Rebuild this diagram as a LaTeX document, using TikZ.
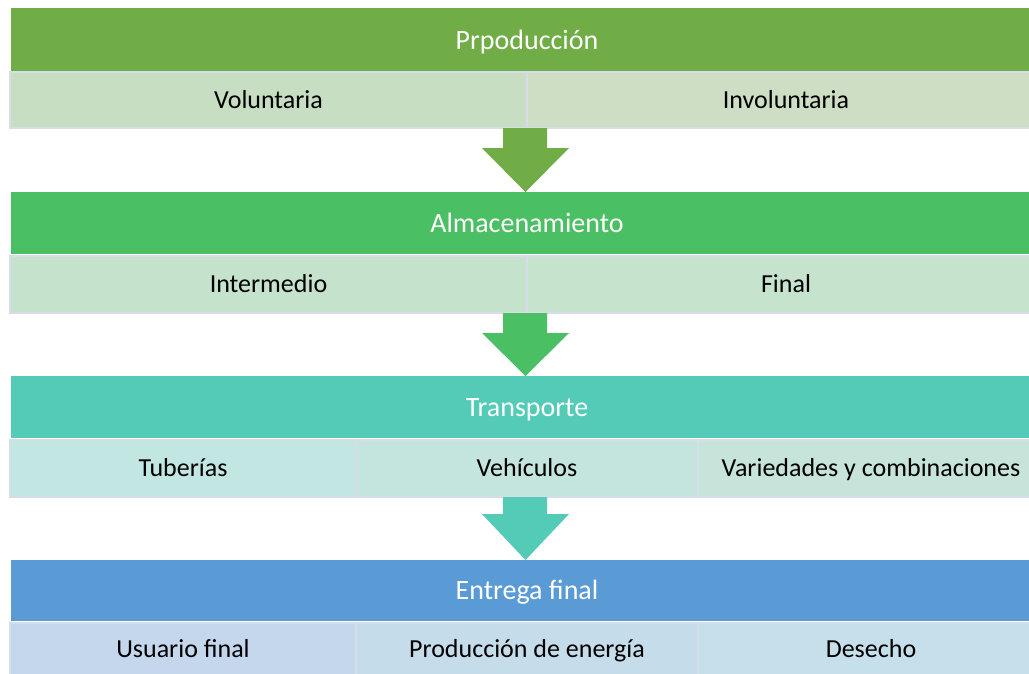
\documentclass[tikz,border=0pt]{standalone}
\usepackage{fontspec}
\setmainfont{Carlito}
\usetikzlibrary{calc}
\definecolor{hA}{HTML}{70AD47}
\definecolor{hB}{HTML}{4BBF63}
\definecolor{hC}{HTML}{53CBB6}
\definecolor{hD}{HTML}{5B9BD5}
\definecolor{sA1}{HTML}{C8DEC2}
\definecolor{sA2}{HTML}{CDDEC4}
\definecolor{sB1}{HTML}{C4E2CC}
\definecolor{sB2}{HTML}{C6E3CD}
\definecolor{sC1}{HTML}{C2E6E2}
\definecolor{sC2}{HTML}{C4E5DD}
\definecolor{sC3}{HTML}{C6E4DA}
\definecolor{sD1}{HTML}{C5D7EC}
\definecolor{sD2}{HTML}{C5DCEB}
\definecolor{sD3}{HTML}{C5E0EB}
\definecolor{bord}{HTML}{D6DDE8}
\tikzset{
  headtext/.style={text=white, inner sep=0pt, text height=18pt, text depth=0pt, font=\fontsize{28}{32}\selectfont},
  cell/.style={draw=bord, line width=2pt, inner sep=0pt, text height=16pt, text depth=0pt, font=\fontsize{26}{30}\selectfont, text=black, anchor=north west}
}
\begin{document}
\begin{tikzpicture}[x=1pt,y=-1pt]
\useasboundingbox (0,0) rectangle (1029,673);
\fill[white] (0,0) rectangle (1029,673);
% Row 1
\fill[hA] (11,8) rectangle (1043,71);
\node[headtext] (h1) at (527,40) {Prpoducción};
\node[cell, fill=sA1, minimum width=517pt, minimum height=56pt] (a1) at (9,71) {Voluntaria};
\node[cell, fill=sA2, minimum width=518pt, minimum height=56pt] (a2) at (526,71) {Involuntaria};
% Row 2
\fill[hB] (11,192) rectangle (1043,254);
\node[headtext] (h2) at (527,223) {Almacenamiento};
\node[cell, fill=sB1, minimum width=517pt, minimum height=57pt] (b1) at (9,255) {Intermedio};
\node[cell, fill=sB2, minimum width=518pt, minimum height=57pt] (b2) at (526,255) {Final};
% Row 3
\fill[hC] (11,376) rectangle (1043,438);
\node[headtext] (h3) at (527,407) {Transporte};
\node[cell, fill=sC1, minimum width=346pt, minimum height=57pt] (c1) at (9,439) {Tuberías};
\node[cell, fill=sC2, minimum width=342pt, minimum height=57pt] (c2) at (355,439) {Vehículos};
\node[cell, fill=sC3, minimum width=346pt, minimum height=57pt] (c3) at (697,439) {Variedades y combinaciones};
% Row 4
\fill[hD] (11,560) rectangle (1043,621);
\node[headtext] (h4) at (527,590) {Entrega final};
\node[cell, fill=sD1, minimum width=346pt, minimum height=53pt] (d1) at (9,622) {Usuario final};
\node[cell, fill=sD2, minimum width=342pt, minimum height=53pt] (d2) at (355,622) {Producción de energía};
\node[cell, fill=sD3, minimum width=346pt, minimum height=53pt] (d3) at (697,622) {Desecho};
% Arrows
\fill[hA] (503,128) -- (547,128) -- (547,148) -- (569,148) -- (525.5,192) -- (482,148) -- (503,148) -- cycle;
\fill[hB] (503,313) -- (547,313) -- (547,333) -- (569,333) -- (525.5,376) -- (482,333) -- (503,333) -- cycle;
\fill[hC] (503,497) -- (547,497) -- (547,514) -- (569,514) -- (525.5,560) -- (482,514) -- (503,514) -- cycle;
\end{tikzpicture}
\end{document}
